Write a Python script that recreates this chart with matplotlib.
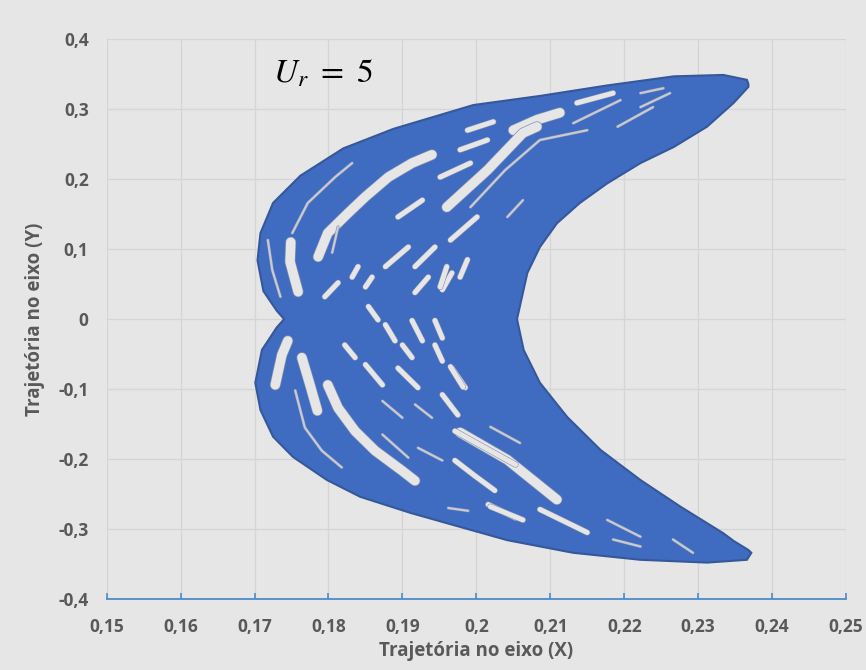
import matplotlib.pyplot as plt
import matplotlib.patheffects as pe

plt.rcParams['font.family'] = ['Open Sans', 'DejaVu Sans']
plt.rcParams['mathtext.fontset'] = 'stix'

# envelope of the trajectory cloud: outer edge, top tip -> left side -> bottom tip
outer_x = [0.2368, 0.2366, 0.2334, 0.2267, 0.2177, 0.2086, 0.1996, 0.1888, 0.1820,
           0.1762, 0.1725, 0.1708, 0.1704, 0.1712, 0.1730, 0.1740, 0.1730, 0.1710,
           0.1701, 0.1708, 0.1725, 0.1752, 0.1798, 0.1843, 0.1911, 0.1978, 0.2042,
           0.2131, 0.2222, 0.2312, 0.2366, 0.2372]
outer_y = [0.336, 0.342, 0.349, 0.347, 0.334, 0.319, 0.306, 0.272, 0.244,
           0.205, 0.166, 0.123, 0.084, 0.040, 0.012, 0.000, -0.012, -0.044,
           -0.091, -0.130, -0.168, -0.197, -0.230, -0.254, -0.277, -0.297, -0.316,
           -0.334, -0.344, -0.348, -0.344, -0.334]
# inner edge, bottom tip -> top tip
inner_x = [0.2368, 0.2348, 0.2334, 0.2276, 0.2222, 0.2168, 0.2123, 0.2086, 0.2064,
           0.2055, 0.2069, 0.2086, 0.2109, 0.2140, 0.2177, 0.2222, 0.2267, 0.2312,
           0.2348, 0.2368]
inner_y = [-0.330, -0.317, -0.306, -0.268, -0.230, -0.187, -0.140, -0.091, -0.044,
           0.000, 0.066, 0.103, 0.137, 0.166, 0.194, 0.223, 0.246, 0.275,
           0.309, 0.332]

# gaps inside the cloud (wide / medium / thin)
gaps_wide_x = [[0.1786, 0.1799, 0.1827, 0.1850, 0.1881, 0.1913, 0.1940],
               [0.1759, 0.1748, 0.1749],
               [0.1728, 0.1737, 0.1745],
               [0.1764, 0.1775, 0.1785],
               [0.1799, 0.1813, 0.1836, 0.1863, 0.1900, 0.1917],
               [0.2050, 0.2082, 0.2113],
               [0.1960, 0.2015, 0.2063, 0.2082],
               [0.1978, 0.2042, 0.2109]]
gaps_wide_y = [[0.089, 0.123, 0.152, 0.175, 0.203, 0.223, 0.235],
               [0.039, 0.082, 0.110],
               [-0.094, -0.051, -0.031],
               [-0.055, -0.094, -0.131],
               [-0.094, -0.127, -0.160, -0.188, -0.217, -0.231],
               [0.270, 0.285, 0.295],
               [0.160, 0.213, 0.266, 0.275],
               [-0.162, -0.201, -0.258]]

gaps_mid_x = [[0.1988, 0.2023], [0.2136, 0.2185], [0.1978, 0.2015], [0.1951, 0.1992],
              [0.1965, 0.2001], [0.1894, 0.1927], [0.1877, 0.1908], [0.1917, 0.1944],
              [0.1832, 0.1840], [0.1795, 0.1813], [0.1850, 0.1859], [0.1917, 0.1935],
              [0.1954, 0.1967], [0.1854, 0.1867], [0.1951, 0.1960], [0.1978, 0.1988],
              [0.1822, 0.1836], [0.1850, 0.1873], [0.1877, 0.1890], [0.1913, 0.1927],
              [0.1944, 0.1954], [0.1900, 0.1913], [0.1894, 0.1921], [0.1944, 0.1954],
              [0.1954, 0.1975], [0.1967, 0.1985], [0.1971, 0.2012, 0.2053],
              [0.1971, 0.1998, 0.2025], [0.2016, 0.2053], [0.1965, 0.1982],
              [0.2019, 0.2063], [0.2086, 0.2150]]
gaps_mid_y = [[0.270, 0.282], [0.309, 0.323], [0.242, 0.256], [0.203, 0.223],
              [0.113, 0.146], [0.146, 0.170], [0.075, 0.103], [0.075, 0.103],
              [0.060, 0.075], [0.032, 0.052], [0.046, 0.060], [0.038, 0.060],
              [0.042, 0.066], [0.018, -0.001], [0.046, 0.075], [0.060, 0.085],
              [-0.037, -0.055], [-0.065, -0.094], [-0.008, -0.031], [-0.002, -0.031],
              [-0.002, -0.027], [-0.037, -0.055], [-0.070, -0.098], [-0.037, -0.060],
              [-0.108, -0.137], [-0.070, -0.098], [-0.160, -0.184, -0.208],
              [-0.202, -0.224, -0.245], [-0.265, -0.284], [-0.068, -0.097],
              [-0.268, -0.287], [-0.272, -0.305]]

gaps_thin_x = [[0.1718, 0.1724, 0.1735], [0.1751, 0.1772, 0.1809, 0.1832],
               [0.2222, 0.2253], [0.2222, 0.2262], [0.2131, 0.2195], [0.2191, 0.2239],
               [0.1992, 0.2039, 0.2086, 0.2150], [0.2042, 0.2063], [0.1805, 0.1813],
               [0.1755, 0.1768, 0.1791, 0.1818], [0.1873, 0.1900], [0.1917, 0.1940],
               [0.1873, 0.1908], [0.1921, 0.1954], [0.1962, 0.1989], [0.2177, 0.2222],
               [0.2185, 0.2222], [0.2266, 0.2293], [0.2019, 0.2059]]
gaps_thin_y = [[0.113, 0.070, 0.032], [0.123, 0.166, 0.203, 0.223],
               [0.323, 0.330], [0.303, 0.323], [0.280, 0.313], [0.275, 0.303],
               [0.160, 0.213, 0.256, 0.270], [0.146, 0.170], [0.095, 0.132],
               [-0.102, -0.155, -0.188, -0.212], [-0.117, -0.141], [-0.122, -0.141],
               [-0.165, -0.198], [-0.184, -0.202], [-0.270, -0.274], [-0.287, -0.311],
               [-0.315, -0.325], [-0.315, -0.334], [-0.154, -0.177]]

xticks = [0.15, 0.16, 0.17, 0.18, 0.19, 0.20, 0.21, 0.22, 0.23, 0.24, 0.25]
xtick_labels = ['0,15', '0,16', '0,17', '0,18', '0,19', '0,2', '0,21', '0,22', '0,23', '0,24', '0,25']
yticks = [-0.4, -0.3, -0.2, -0.1, 0.0, 0.1, 0.2, 0.3, 0.4]
ytick_labels = ['-0,4', '-0,3', '-0,2', '-0,1', '0', '0,1', '0,2', '0,3', '0,4']

bg = '#E7E6E6'
blue = '#3F6CC0'
grey_txt = '#595959'

fig = plt.figure(figsize=(8.66, 6.70), dpi=100, facecolor=bg)
ax = fig.add_axes([0.1232, 0.106, 0.8537, 0.8354], facecolor=bg)

ax.fill(outer_x + inner_x, outer_y + inner_y, color=blue, ec='#34589A', lw=1.5, zorder=2)

rim = '#8390b5'
for gx, gy in zip(gaps_wide_x, gaps_wide_y):
    ax.plot(gx, gy, color=bg, lw=6.8, solid_capstyle='round', zorder=3,
            path_effects=[pe.Stroke(linewidth=7.8, foreground=rim), pe.Normal()])
for gx, gy in zip(gaps_mid_x, gaps_mid_y):
    ax.plot(gx, gy, color=bg, lw=3.6, solid_capstyle='round', zorder=3,
            path_effects=[pe.Stroke(linewidth=4.4, foreground=rim), pe.Normal()])
for gx, gy in zip(gaps_thin_x, gaps_thin_y):
    ax.plot(gx, gy, color='#c9cbd3', lw=1.5, solid_capstyle='round', zorder=3,
            path_effects=[pe.Stroke(linewidth=2.2, foreground=rim), pe.Normal()])

ax.text(0.1793, 0.338, r'$U_r\ =\ 5$', fontsize=24, ha='center', va='baseline', color='black')

ax.set_xlim(0.15, 0.25)
ax.set_ylim(-0.4, 0.4)
ax.set_xticks(xticks)
ax.set_xticklabels(xtick_labels)
ax.set_yticks(yticks)
ax.set_yticklabels(ytick_labels)
ax.grid(True, color='#D6D5D5', lw=0.9)
ax.set_axisbelow(True)

for s in ['top', 'right', 'left']:
    ax.spines[s].set_visible(False)
ax.spines['bottom'].set_color('#4A8CC8')
ax.spines['bottom'].set_linewidth(1.3)
ax.tick_params(axis='x', direction='in', length=4, width=1.2, color='#4A8CC8',
               pad=14, labelsize=12.5, labelcolor=grey_txt)
ax.tick_params(axis='y', length=0, pad=13, labelsize=12.5, labelcolor=grey_txt)
for lab in ax.get_xticklabels() + ax.get_yticklabels():
    lab.set_fontweight('bold')

ax.set_xlabel('Trajetória no eixo (X)', fontsize=13.5, fontweight='bold', color=grey_txt, va='center')
ax.set_ylabel('Trajetória no eixo (Y)', fontsize=13.5, fontweight='bold', color=grey_txt, va='center')
ax.xaxis.set_label_coords(0.5, -0.093)
ax.yaxis.set_label_coords(-0.097, 0.5)

fig.savefig('out.png', dpi=100, facecolor=bg)
